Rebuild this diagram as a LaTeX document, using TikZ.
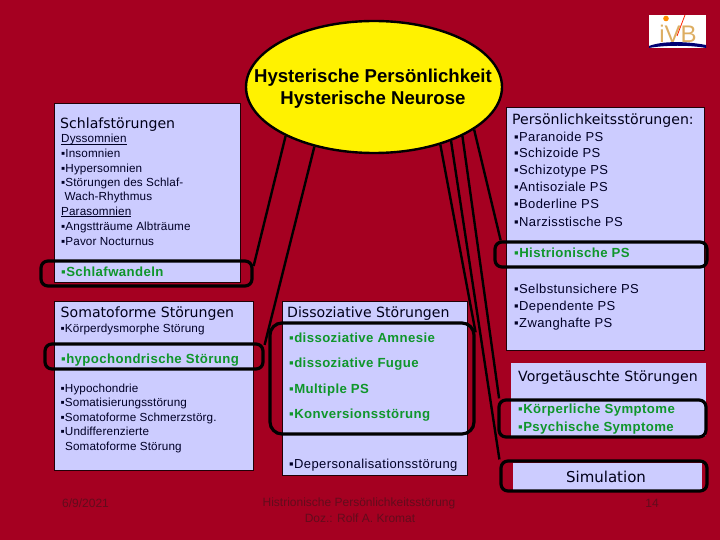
\documentclass[tikz,border=0pt]{standalone}
\usepackage{fontspec}
\usetikzlibrary{shapes.geometric}
\setmainfont{Liberation Sans}
\newfontfamily\headfont{DejaVu Sans}
\newfontfamily\spacedfont[LetterSpace=3]{Liberation Sans}
\newfontfamily\tightfont[LetterSpace=1]{Liberation Sans}
\definecolor{bgred}{HTML}{A50021}
\definecolor{boxfill}{HTML}{CCCCFF}
\definecolor{hlgreen}{HTML}{0F962B}
\definecolor{footcol}{HTML}{620C1C}
\definecolor{logotan}{HTML}{DDAE62}
\newcommand{\bul}{▪}
\newcommand{\ulined}[1]{\setbox0=\hbox{#1}\rlap{\rule[-1.6pt]{\wd0}{.8pt}}\box0}
\tikzset{
  x=1pt,y=-1pt,
  panel/.style={draw=black!80!bgred,line width=.8pt,fill=boxfill,inner sep=0},
  plainpanel/.style={fill=boxfill,inner sep=0},
  ring/.style={draw=black,line width=3.2pt,rounded corners=7pt,inner sep=0},
  spoke/.style={draw=black,line width=2.4pt},
  head/.style={anchor=base west,inner sep=0,font=\headfont\fontsize{14.1}{16}\selectfont,text=black!90!blue},
  small/.style={anchor=base west,inner sep=0,font=\tightfont\fontsize{11.7}{14}\selectfont,text=black!85!blue},
  mid/.style={anchor=base west,inner sep=0,font=\spacedfont\fontsize{13}{15}\selectfont,text=black!85!blue},
  green/.style={anchor=base west,inner sep=0,font=\spacedfont\fontsize{13.2}{15}\bfseries\selectfont,text=hlgreen},
  foot/.style={inner sep=0,font=\fontsize{12}{14}\selectfont,text=footcol},
}
\begin{document}
\begin{tikzpicture}
\useasboundingbox (0,0) rectangle (720,540);
\fill[bgred] (0,0) rectangle (720,540);

% panels
\node[panel,minimum width=186pt,minimum height=179pt] (schlaf) at (147,192.5) {};
\node[panel,minimum width=198pt,minimum height=243pt] (pers) at (605,228.5) {};
\node[panel,minimum width=199pt,minimum height=169pt] (soma) at (153.5,385.5) {};
\node[panel,minimum width=185pt,minimum height=174pt] (diss) at (374.5,388) {};
\node[plainpanel,minimum width=195pt,minimum height=73pt] (vorg) at (608.5,399.5) {};
\node[plainpanel,minimum width=189pt,minimum height=27pt] (simu) at (607.5,476.5) {};

% logo
\node[fill=white,inner sep=0,minimum width=57pt,minimum height=33pt] (logo) at (677.5,31.5) {};
\node[anchor=base,inner sep=0,font=\fontsize{24}{24}\selectfont,text=logotan] (logotext) at (678,43) {iVB};
\fill[orange!90!yellow] (666,18.5) circle (2.8);
\draw[red!70!orange,line width=.8pt] (677,36) -- (685,15);
\fill[blue!45!black] (649,46) .. controls (662,41) and (685,41) .. (706,45) -- (706,48) .. controls (690,45) and (665,45) .. (649,48) -- cycle;

% ellipse
\node[draw=black,line width=2.4pt,fill=yellow,ellipse,inner sep=0,minimum width=256pt,minimum height=132pt] (hyst) at (374,87) {};
\node[anchor=base,inner sep=0,font=\fontsize{18.6}{20}\bfseries\selectfont] (hyst1) at (373,83) {Hysterische Persönlichkeit};
\node[anchor=base,inner sep=0,font=\fontsize{18.6}{20}\bfseries\selectfont] (hyst2) at (373,105) {Hysterische Neurose};

% Schlaf
\node[head] (a0) at (60,129) {Schlafstörungen};
\node[small] (a1) at (61,143) {\ulined{Dyssomnien}};
\node[small] (a2) at (61,158) {\bul Insomnien};
\node[small] (a3) at (61,173) {\bul Hypersomnien};
\node[small] (a4) at (61,187) {\bul Störungen des Schlaf-};
\node[small] (a5) at (64.5,201) {Wach-Rhythmus};
\node[small] (a6) at (61,215) {\ulined{Parasomnien}};
\node[small] (a7) at (61,230) {\bul Angstträume Albträume};
\node[small] (a8) at (61,245) {\bul Pavor Nocturnus};
\node[green] (a9) at (61,276) {\bul Schlafwandeln};

% Persoenlichkeit
\node[head] (b0) at (512,125) {Persönlichkeitsstörungen:};
\node[mid] (b1) at (514,142) {\bul Paranoide PS};
\node[mid] (b2) at (514,158) {\bul Schizoide PS};
\node[mid] (b3) at (514,175) {\bul Schizotype PS};
\node[mid] (b4) at (514,192) {\bul Antisoziale PS};
\node[mid] (b5) at (514,208) {\bul Boderline PS};
\node[mid] (b6) at (514,226) {\bul Narzisstische PS};
\node[green] (b7) at (514,258) {\bul Histrionische PS};
\node[mid] (b8) at (514,293) {\bul Selbstunsichere PS};
\node[mid] (b9) at (514,310) {\bul Dependente PS};
\node[mid] (b10) at (514,327) {\bul Zwanghafte PS};

% Somatoforme
\node[head] (c0) at (60.5,317) {Somatoforme Störungen};
\node[small] (c1) at (60.5,332) {\bul Körperdysmorphe Störung};
\node[green] (c2) at (61,363) {\bul hypochondrische Störung};
\node[small] (c3) at (60.5,392) {\bul Hypochondrie};
\node[small] (c4) at (60.5,406) {\bul Somatisierungsstörung};
\node[small] (c5) at (60.5,421) {\bul Somatoforme Schmerzstörg.};
\node[small] (c6) at (60.5,435) {\bul Undifferenzierte};
\node[small] (c7) at (65,450) {Somatoforme Störung};

% Dissoziativ
\node[head] (d0) at (287,317) {Dissoziative Störungen};
\node[green] (d1) at (289,342) {\bul dissoziative Amnesie};
\node[green] (d2) at (289,367) {\bul dissoziative Fugue};
\node[green] (d3) at (289,393) {\bul Multiple PS};
\node[green] (d4) at (289,418) {\bul Konversionsstörung};
\node[mid] (d5) at (289,468) {\bul Depersonalisationsstörung};

% Vorgetaeuscht, Simulation
\node[head] (e0) at (518,381) {Vorgetäuschte Störungen};
\node[green] (e1) at (518,413) {\bul Körperliche Symptome};
\node[green] (e2) at (518,431) {\bul Psychische Symptome};
\node[anchor=base,inner sep=0,font=\headfont\fontsize{15}{17}\selectfont,text=black!90!blue] (f0) at (606,482) {Simulation};

% footer
\node[foot,anchor=base west] (g0) at (62,507) {6/9/2021};
\node[foot,anchor=base] (g1) at (359,506) {Histrionische Persönlichkeitsstörung};
\node[foot,anchor=base] (g2) at (360,522) {Doz.: Rolf A. Kromat};
\node[foot,anchor=base] (g3) at (652,507) {14};

% rings
\node[ring,minimum width=211pt,minimum height=25pt] (r1) at (146.5,273.5) {};
\node[ring,minimum width=212pt,minimum height=25pt] (r2) at (601,254.5) {};
\node[ring,minimum width=218pt,minimum height=25pt] (r3) at (154,356.5) {};
\node[ring,rounded corners=12pt,minimum width=204pt,minimum height=111pt] (r4) at (372,378.5) {};
\node[ring,minimum width=207pt,minimum height=37pt] (r5) at (602.5,418.5) {};
\node[ring,minimum width=206pt,minimum height=30pt] (r6) at (604,476) {};

% connectors
\draw[spoke] (hyst.209.3) -- (r1.4.6);
\draw[spoke] (hyst.225) -- (r3.6.9);
\draw[spoke] (hyst.-23.5) -- (r2.172.73);
\draw[spoke] (hyst.-29.6) -- (r5.169.47);
\draw[spoke] (hyst.-35.9) -- (r6.171.47);
\draw[spoke] (hyst.-41.7) -- (r4.24.04);
\end{tikzpicture}
\end{document}
